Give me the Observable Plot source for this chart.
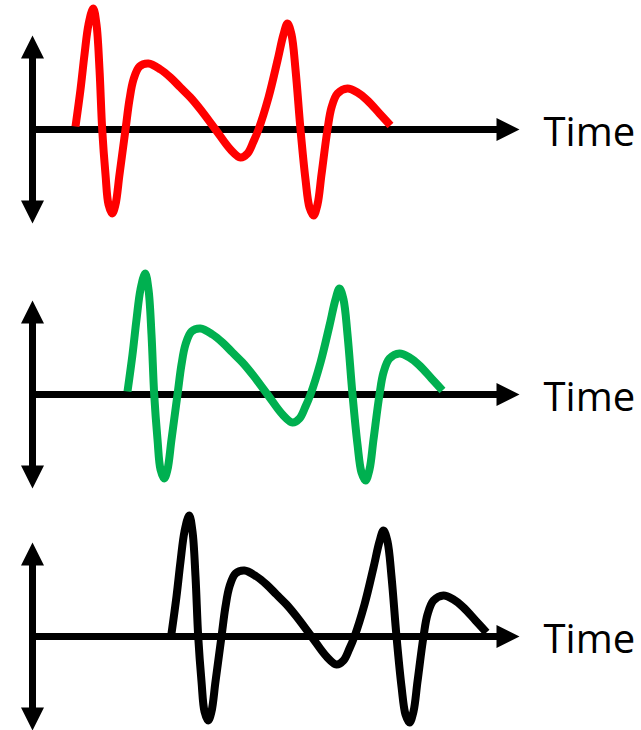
<!DOCTYPE html>
<html>
<head>
<meta charset="utf-8">
<script src="https://cdn.jsdelivr.net/npm/d3@7"></script>
<script src="https://cdn.jsdelivr.net/npm/@observablehq/plot@0.6"></script>
<style>
  html, body { margin: 0; padding: 0; background: #fff; }
  body { width: 641px; height: 730px; overflow: hidden; }
  #chart { position: relative; width: 641px; height: 730px; }
  .panel { position: absolute; left: 0; }
</style>
</head>
<body>
<div id="chart"></div>
<script>
// One waveform (time offset from its own start, amplitude)
const waveTime  = [0, 5, 9, 13, 17.7, 21, 24, 26.7, 30, 33, 36.7, 40, 44, 50, 54, 58, 64, 73, 85, 95, 105, 115, 125, 140, 155, 165, 172, 178, 183, 193, 202, 208, 212, 216, 220, 225, 230, 234, 238, 242, 246, 252, 256, 262, 272, 282, 292, 304, 315];
const waveValue = [3, 40, 75, 105, 121, 105, 60, 0, -45, -75, -84, -75, -45, 0, 30, 50, 63, 66, 60, 52, 42, 32, 20, 0, -20, -28, -24, -12, 0, 32, 69, 95, 106, 95, 60, 0, -50, -78, -86, -75, -45, 0, 22, 36, 41, 37, 29, 16, 4];

// Three copies, each delayed in time
const panelNames  = ["red", "green", "black"];
const panelColors = ["#ff0000", "#00b050", "#000000"];
const panelDelays = [43, 95, 139];

// Axis extents (time / amplitude units) and axis label
const axisTimeEnd = 487;
const axisAmpReach = 94;
const axisLabel = "Time";

const wave = waveTime.map((t, i) => ({t, v: waveValue[i]}));

// filled arrowhead symbol, tip at origin pointing up
const arrowHead = {
  draw(ctx) {
    ctx.moveTo(0, 0);
    ctx.lineTo(11.5, 23);
    ctx.lineTo(-11.5, 23);
    ctx.closePath();
  }
};

const tops = [-1, 264, 506];
const chart = document.getElementById("chart");

panelNames.forEach((name, k) => {
  const heads = [
    {x: 0, y: axisAmpReach, rotate: 0},
    {x: 0, y: -axisAmpReach, rotate: 180},
    {x: axisTimeEnd, y: 0, rotate: 90}
  ];
  const svg = Plot.plot({
    width: 641,
    height: 260,
    margin: 0,
    x: {domain: [-32, 609], range: [0, 641], axis: null},
    y: {domain: [-130, 130], axis: null},
    marks: [
      Plot.ruleY([0], {x1: 0, x2: axisTimeEnd - 18, stroke: "black", strokeWidth: 7}),
      Plot.ruleX([0], {y1: -axisAmpReach + 18, y2: axisAmpReach - 18, stroke: "black", strokeWidth: 7}),
      Plot.dot(heads, {x: "x", y: "y", rotate: "rotate", symbol: arrowHead, fill: "black", stroke: "none"}),
      Plot.line(wave, {
        x: d => d.t + panelDelays[k],
        y: "v",
        stroke: panelColors[k],
        strokeWidth: 8,
        curve: "catmull-rom",
        strokeLinecap: "butt",
        strokeLinejoin: "round"
      }),
      Plot.text([axisLabel], {
        x: axisTimeEnd + 24,
        y: 0,
        text: d => d,
        textAnchor: "start",
        lineAnchor: "bottom",
        dy: 16.5,
        fontSize: 40,
        fontFamily: "Open Sans",
        fill: "black"
      })
    ]
  });
  const div = document.createElement("div");
  div.className = "panel";
  div.style.top = tops[k] + "px";
  div.appendChild(svg);
  chart.appendChild(div);
});
</script>
</body>
</html>
